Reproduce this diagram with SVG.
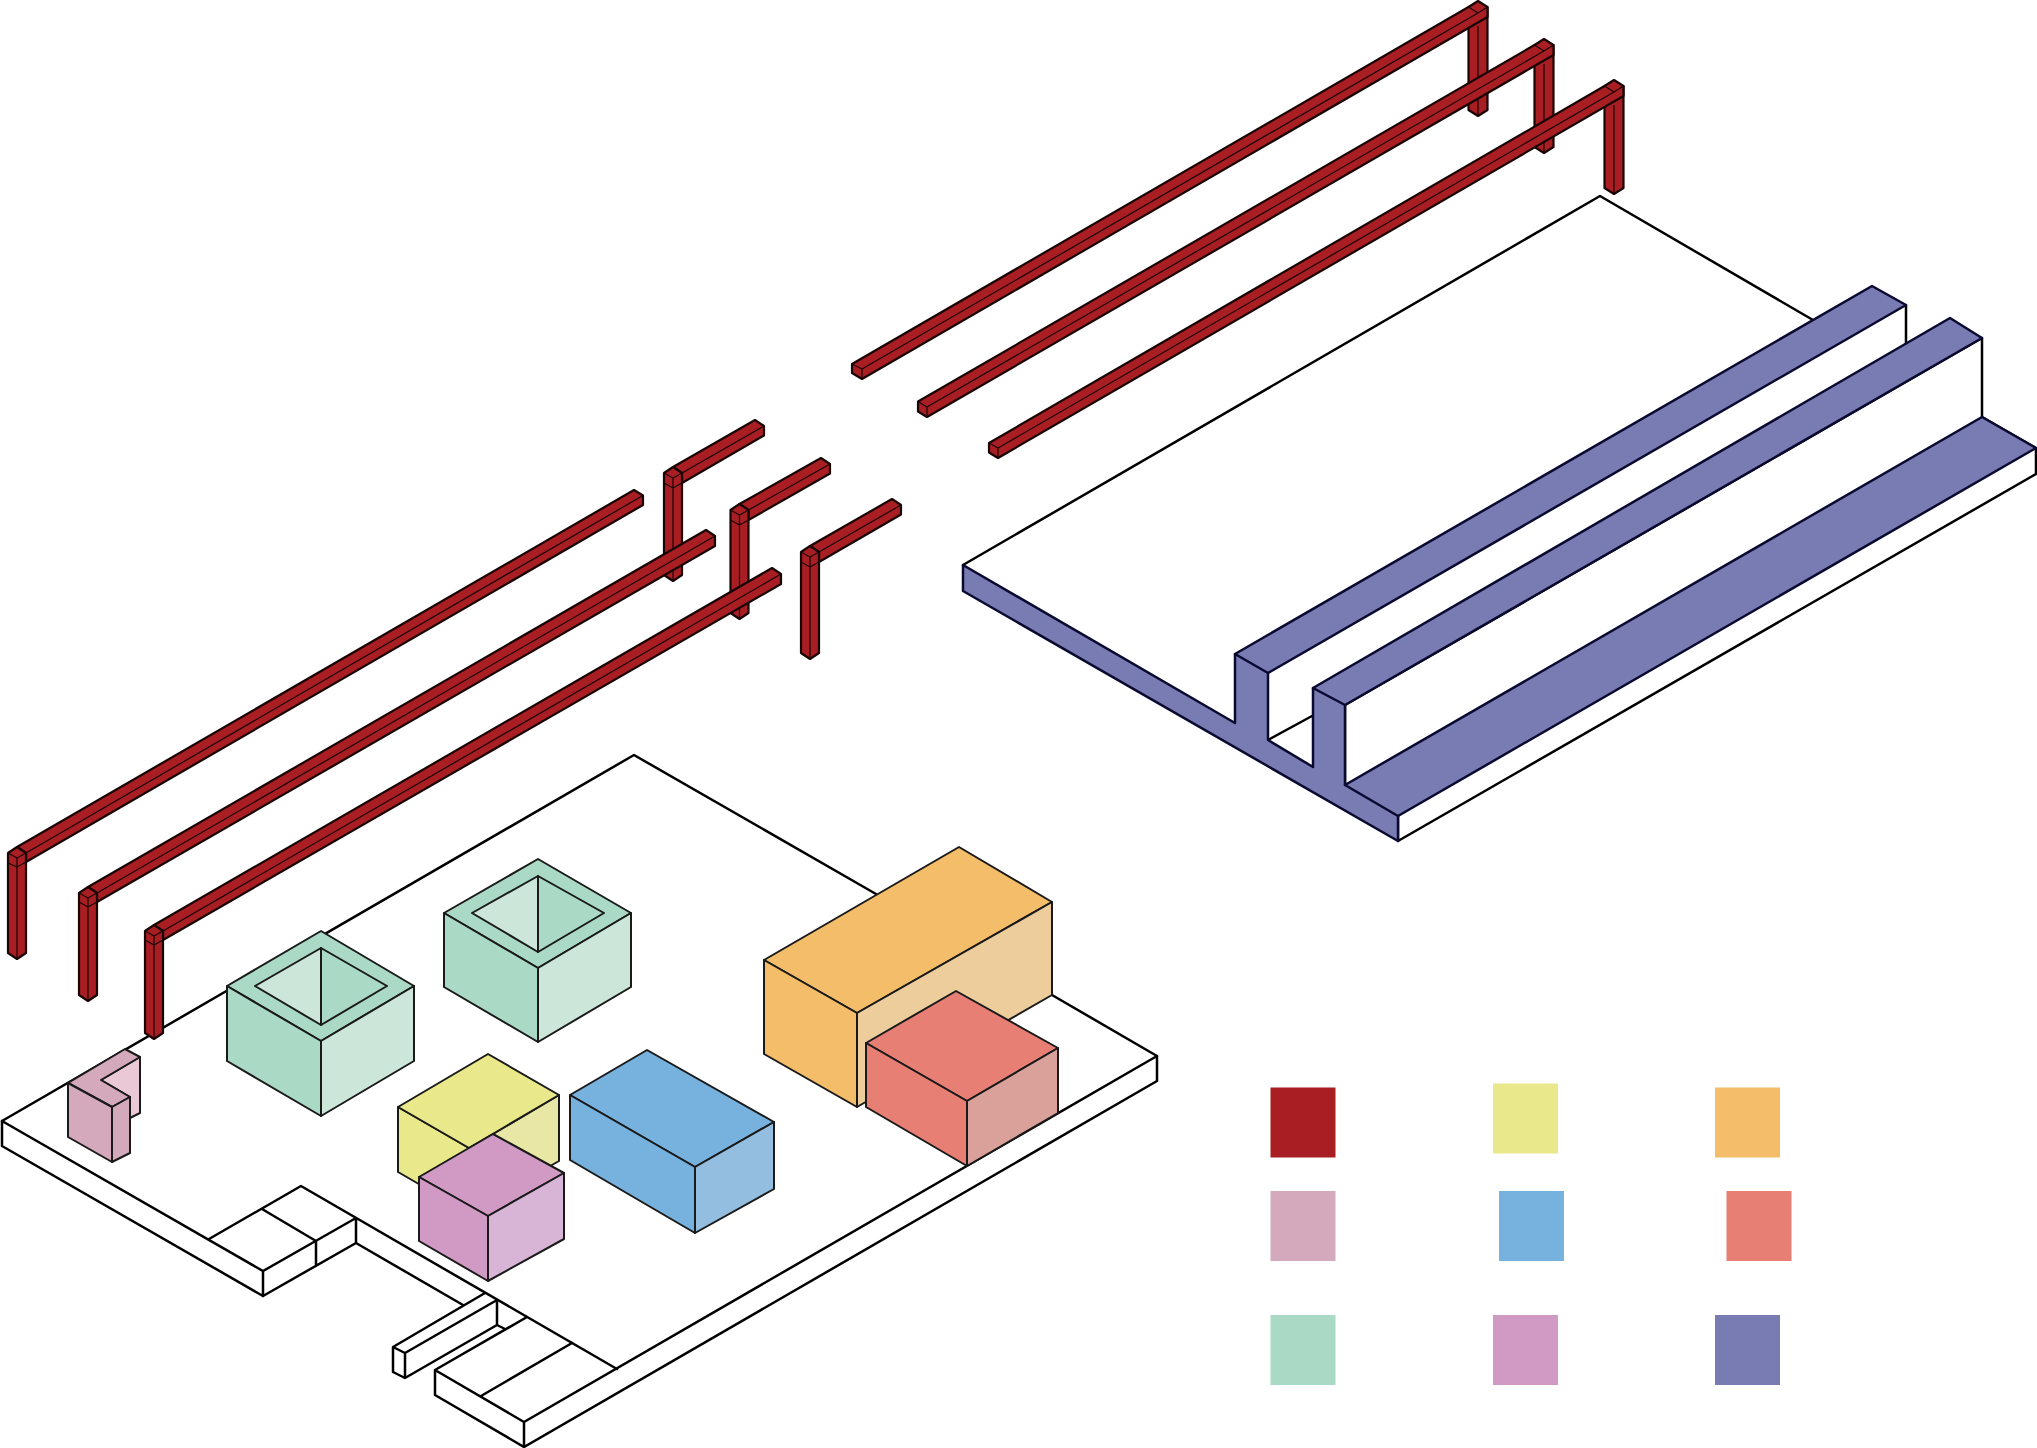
<svg xmlns="http://www.w3.org/2000/svg" width="2037" height="1448" viewBox="0 0 2037 1448">
<style>
.o{fill:#fff;stroke:#000;stroke-width:2.5;stroke-linejoin:round;stroke-linecap:round}
.l{fill:none;stroke:#000;stroke-width:2.5;stroke-linejoin:round;stroke-linecap:round}
.r{fill:#a81e23;stroke:#1a0505;stroke-width:2.2;stroke-linejoin:round}
.rl{fill:none;stroke:#1a0505;stroke-width:1.2;stroke-linejoin:round}
.b{stroke-width:2;stroke-linejoin:round;stroke:#1a1a1a}
.in{fill:#787cb3;stroke:#0a0a30;stroke-width:2.5;stroke-linejoin:round}
.g1{fill:#aad9c5}.g2{fill:#cce6d9}.y1{fill:#e9e98b}.y2{fill:#e9e7a5}.p1{fill:#d09ac5}.p2{fill:#d8b4d6}
.bl1{fill:#77b1dd}.bl2{fill:#94bee0}.or1{fill:#f3bd6a}.or2{fill:#edcd9b}.s1{fill:#e87f75}.s2{fill:#daa19b}
.k1{fill:#d4a9bc}.k2{fill:#eac8d6}
</style>

<g id="slab-upper">
<path class="l" d="M963 565L1600 196L1813 320"/>
<path class="o" d="M1398 841L2036 474V448L1982 417V338L1345 705V785L1398 816Z"/>
<path class="l" d="M1906 305V346M1268 740L1312 716"/>
<path class="in" d="M963 565L1235 723V654L1872 286L1906 305L1268 673V740L1313 767V688L1950 318L1982 338L1345 705V785L1982 417L2036 448L1398 816V841L963 591Z"/>
<path class="l" style="stroke:#0a0a30" d="M1235 654L1268 673M1313 688L1345 705M1345 785L1398 816"/>
</g>

<g id="floor-lower">
<path class="l" d="M2 1121L634 755L876 894M1052 995L1157 1056"/>
<path class="l" d="M2 1121V1146L263 1296V1271L2 1121"/>
<path class="l" d="M263 1296L356 1243V1218L263 1271M316 1241V1265M209 1239L301 1186L617 1369M262 1209L316 1241M356 1243L463 1305"/>
<path class="l" d="M393 1347L485 1293M405 1353L497 1300V1325L405 1378V1353L393 1347V1372L405 1378M497 1325L505 1329"/>
<path class="l" d="M435 1370L527 1317M435 1370L524 1422V1447L435 1395V1370M481 1396L572 1343M524 1422L1157 1056V1081L524 1447"/>
</g>

<g id="frame-upper-1">
<path class="r" d="M1468.5 7V110L1478 116L1487.5 110V7Z"/><path class="rl" d="M1478 26V116"/>
<path class="r" d="M852 364L1468.5 7L1478 1L1487.5 7V17L862 379L852 373Z"/>
<path class="rl" d="M862 379V369L1478 13L1487.5 7M1468.5 7L1478 13"/>
<path class="rl" d="M852 364L862 369"/>
</g>
<g id="frame-upper-2">
<path class="r" d="M1534.5 45V147L1544 153L1553.5 147V45Z"/><path class="rl" d="M1544 64V153"/>
<path class="r" d="M918 401.5L1534.5 45L1544 39L1553.5 45V55L927 417L918 411.5Z"/>
<path class="rl" d="M927 417V407L1544 51L1553.5 45M1534.5 45L1544 51M918 401.5L927 407"/>
</g>
<g id="frame-upper-3">
<path class="r" d="M1604.5 86V188L1614 194L1623.5 188V86Z"/><path class="rl" d="M1614 105V194"/>
<path class="r" d="M989 443L1604.5 86L1614 80L1623.5 86V96L998 458L989 452.5Z"/>
<path class="rl" d="M998 458V448L1614 92L1623.5 86M1604.5 86L1614 92M989 443L998 448"/>
</g>

<g id="frame-lower-t1">
<path class="r" d="M673 467L755 420L764 426V435.5L682 483V473Z"/><path class="rl" d="M682 473L764 426"/>
<path class="r" d="M664 473V575L673 581L682 575V473L673 467Z"/><path class="rl" d="M664 473L673 478L682 473M664 483L673 488L682 483M673 478V581"/>
</g>
<g id="frame-lower-t2">
<path class="r" d="M739.5 504L821 458L830 464V473.5L748.5 520V510Z"/><path class="rl" d="M748.5 510L830 464"/>
<path class="r" d="M730.5 510V613L739.5 619L748.5 613V510L739.5 504Z"/><path class="rl" d="M730.5 510L739.5 515L748.5 510M730.5 520L739.5 525L748.5 520M739.5 515V619"/>
</g>
<g id="frame-lower-t3">
<path class="r" d="M810 546L892 499L901 505V514.5L819 562V552Z"/><path class="rl" d="M819 552L901 505"/>
<path class="r" d="M801 552V653L810 659L819 653V552L810 546Z"/><path class="rl" d="M801 552L810 557L819 552M801 562L810 567L819 562M810 557V659"/>
</g>

<g id="frame-lower-a">
<path class="r" d="M17 847L634 490L643 495.5V505L26 862V853Z"/><path class="rl" d="M26 853L643 495.5"/>
<path class="r" d="M8 853V953L17 959L26 953V853L17 847Z"/><path class="rl" d="M8 853L17 858L26 853M8 863L17 867L26 862M17 858V959"/>
</g>
<g id="frame-lower-b">
<path class="r" d="M88 887L706 530L715 536V546L97 902V893Z"/><path class="rl" d="M97 893L715 536"/>
<path class="r" d="M79 893V995L88 1001L97 995V893L88 887Z"/><path class="rl" d="M79 893L88 898L97 893M79 902L88 907L97 902M88 898V1001"/>
</g>
<g id="frame-lower-c">
<path class="r" d="M154 925L772 568L781 574V584L163 940V931Z"/><path class="rl" d="M163 931L781 574"/>
<path class="r" d="M145 931V1033L154 1039L163 1033V931L154 925Z"/><path class="rl" d="M145 931L154 936L163 931M145 940L154 945L163 940M154 936V1039"/>
</g>

<g id="box-pink">
<path class="b k2" d="M101 1080L140 1057V1113L130 1118V1097Z"/>
<path class="b k1" d="M68 1083L125 1049L140 1057L101 1080L130 1097L112 1107Z"/>
<path class="b k1" d="M68 1083L112 1107V1162L68 1137Z"/>
<path class="b k1" d="M112 1107L130 1097V1153L112 1162Z"/>
</g>
<g id="box-green-1">
<path class="b g1" d="M321 931L414 986L321 1041L227 986Z"/>
<path class="b g1" d="M227 986L321 1041V1116L227 1061Z"/>
<path class="b g2" d="M414 986L321 1041V1116L414 1061Z"/>
<path class="b g2" d="M321 948L255 986L321 1025Z"/>
<path class="b g1" d="M321 948L387 986L321 1025Z"/>
</g>
<g id="box-green-2">
<path class="b g1" d="M538 859L631 913L538 968L444 913Z"/>
<path class="b g1" d="M444 913L538 968V1042L444 987Z"/>
<path class="b g2" d="M631 913L538 968V1042L631 987Z"/>
<path class="b g2" d="M538 876L472 913L538 952Z"/>
<path class="b g1" d="M538 876L604 913L538 952Z"/>
</g>
<g id="box-yellow">
<path class="b y1" d="M398 1107L469 1148V1213L398 1172Z"/>
<path class="b y2" d="M559 1095L469 1148V1213L559 1161Z"/>
<path class="b y1" d="M488 1054L559 1095L469 1148L398 1107Z"/>
</g>
<g id="box-purple">
<path class="b p1" d="M493 1134L564 1173L488 1216L419 1177Z"/>
<path class="b p1" d="M419 1177L488 1216V1281L419 1241Z"/>
<path class="b p2" d="M564 1173L488 1216V1281L564 1239Z"/>
</g>
<g id="box-blue">
<path class="b bl1" d="M647 1050L774 1122L695 1167L570 1095Z"/>
<path class="b bl1" d="M570 1095L695 1167V1233L570 1160Z"/>
<path class="b bl2" d="M774 1122L695 1167V1233L774 1189Z"/>
</g>
<g id="box-orange">
<path class="b or1" d="M959 847L1052 902L857 1013L764 960Z"/>
<path class="b or1" d="M764 960L857 1013V1107L764 1054Z"/>
<path class="b or2" d="M1052 902L857 1013V1107L1052 995Z"/>
</g>
<g id="box-salmon">
<path class="b s1" d="M956 991L1058 1048L967 1101L866 1043Z"/>
<path class="b s1" d="M866 1043L967 1101V1166L866 1107Z"/>
<path class="b s2" d="M1058 1048L967 1101V1166L1058 1113Z"/>
</g>

<g id="legend">
<rect x="1270.5" y="1087.5" width="65" height="70" fill="#a81e23"/>
<rect x="1493" y="1083.5" width="65" height="70" fill="#e9e98b"/>
<rect x="1715" y="1087.5" width="65" height="70" fill="#f3bd6a"/>
<rect x="1270.5" y="1191" width="65" height="70" fill="#d4a9bc"/>
<rect x="1499" y="1191" width="65" height="70" fill="#77b1dd"/>
<rect x="1726.5" y="1191" width="65" height="70" fill="#e87f75"/>
<rect x="1270.5" y="1315" width="65" height="70" fill="#aad9c5"/>
<rect x="1493" y="1315" width="65" height="70" fill="#d09ac5"/>
<rect x="1715" y="1315" width="65" height="70" fill="#787cb3"/>
</g>
</svg>
